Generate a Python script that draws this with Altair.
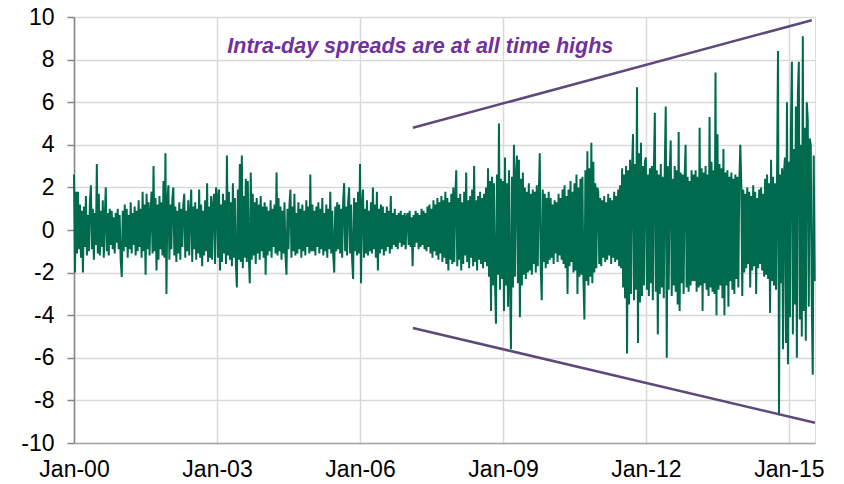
import altair as alt
import pandas as pd

# Values, about one value per week-ish (48 per year)
v2000 = [2.6, -2.0, 1.8, -1.1, 1.8, -0.9, 1.2, -1.3, 0.9, -2.0, 1.1, -0.8, 1.6, -1.2, 0.7, -1.0, 1.3, 2.1, -0.9, 1.0, -1.4, 0.8, -0.7, 3.1, -1.1, 1.7, -1.2, 0.9, -0.8, 1.4, -1.3, 0.6, 2.0, -1.0, 0.8, -1.2, 1.0, -0.7, 0.9, -0.9, 0.6, -1.1, 0.8, -0.6, 1.0, -0.9, 0.7, -1.4]
v2001 = [-2.2, 0.9, -1.0, 1.2, -0.8, 1.0, -1.3, 0.7, -0.9, 1.3, -1.1, 0.8, -0.7, 1.1, -1.2, 0.9, -1.0, 1.4, -0.8, 1.0, -1.3, 1.8, -1.0, 1.2, -2.1, 1.7, -0.9, 1.3, -1.2, 0.8, 1.8, -1.1, 3.0, -1.0, 1.5, -1.9, 1.2, -1.4, 1.6, -0.9, 1.3, -1.2, 2.3, -1.3, 3.6, -3.0, 1.4, 2.1]
v2002 = [-1.4, 1.2, -0.9, 1.5, 2.0, -1.2, 1.1, -1.5, 0.9, -1.1, 1.3, -1.4, 1.0, -0.8, 1.2, 1.7, -1.3, 0.9, -1.0, 1.4, -1.2, 0.8, 1.9, -1.5, 1.1, -0.9, 1.3, -1.4, 1.0, -1.1, 1.9, -1.3, 1.2, -1.7, 0.9, -1.2, 1.4, -1.0, 2.2, -1.5, 1.1, -1.3, 1.6, -1.4, 1.2, 1.7, -1.6, 2.0]
v2003 = [1.6, -1.3, 1.9, -1.9, 1.2, -1.5, 1.7, -1.1, 1.4, -1.6, 3.5, -1.2, 1.8, -1.4, 1.3, -1.7, 2.2, -1.3, 1.5, -1.6, -2.7, 1.9, -1.4, 3.1, -1.5, 3.5, -1.8, 1.6, -1.3, 2.4, -1.5, 2.3, -1.2, -2.5, 2.7, -1.4, 1.7, -1.2, 1.3, -1.6, 1.5, -1.1, 1.2, -1.4, 1.6, -1.0, 1.1, -1.3]
v2004 = [1.3, -2.1, 1.1, -1.2, 0.9, -1.0, 1.4, -1.3, 1.0, -0.8, 1.2, -1.1, 2.7, -1.2, 1.5, -1.0, 1.1, -1.4, 0.9, -1.1, 1.3, -1.2, -2.1, 1.0, -0.9, 1.2, 1.9, -1.3, 1.1, -1.0, 1.7, -1.2, 0.8, -1.1, 1.3, -0.9, 1.0, -1.3, 1.2, -1.0, 0.9, -1.2, 1.4, -0.8, 1.1, -1.1, 2.6, -1.0]
v2005 = [1.2, -1.0, 0.9, -1.2, 1.1, -0.8, 1.3, -1.1, 1.0, -0.9, 1.5, -1.2, 0.8, -1.0, 1.2, -1.3, 1.0, -0.9, 1.8, -1.1, 0.9, -1.2, -2.0, 1.1, -1.0, 1.3, -0.9, 1.2, -1.1, 1.0, -1.3, 1.4, 2.2, -1.0, 1.1, -1.2, 1.3, 2.0, -1.1, 1.2, -1.4, -2.3, 1.5, -1.0, 1.3, -1.2, 1.8, -1.1]
v2006 = [3.1, -2.5, 1.2, 1.9, -1.3, 1.0, -1.1, 1.4, -1.2, 0.9, -1.0, 1.3, -1.1, 2.0, -0.9, 1.2, -1.3, 1.8, -1.9, 1.0, -1.1, 1.2, -0.9, 1.1, -1.2, 0.8, -1.0, 1.1, -0.8, 0.9, -1.1, 1.6, -0.9, 0.8, -0.7, 1.0, -0.8, 0.7, -0.9, 0.8, -0.6, 0.9, -0.8, 0.7, -0.7, 0.8, -0.9, 0.6]
v2007 = [0.8, -0.7, 0.9, -0.8, 0.6, -1.7, 0.7, -0.8, 0.9, -0.6, 0.8, -0.9, 0.7, -0.8, 1.0, -0.7, 0.9, -0.9, 0.8, -1.0, 1.1, -0.8, 1.2, -1.1, 1.0, -1.3, 1.4, -1.0, 1.2, -1.2, 1.5, -1.4, 1.3, -1.1, 1.6, -1.5, 1.4, -1.3, 1.8, -1.6, 1.5, -1.9, 1.3, -1.4, 1.7, -1.6, 2.0, -1.5]
v2008 = [1.6, 2.8, -1.7, 1.5, -1.4, 1.7, -1.9, 1.3, -1.6, 1.8, -1.2, 2.7, -1.5, 1.4, -1.8, 1.6, -1.3, 1.9, -1.7, 3.0, -1.5, 1.4, -1.9, 1.6, -1.4, 1.8, -1.6, 1.5, -1.8, 1.7, -1.5, 2.0, -1.7, 2.9, -2.2, 2.3, -3.8, 2.5, -2.6, 2.2, -2.4, -4.4, 2.6, -2.1, 5.0, -2.8, 2.4, -2.3]
v2009 = [2.3, -3.8, 3.4, -2.6, 2.2, -3.6, 2.8, -2.4, -5.6, 2.5, -2.7, 4.0, -2.2, 2.6, 3.5, -2.5, 3.3, -4.1, 2.4, -2.6, 2.7, -2.1, 2.0, -2.3, 1.8, -2.0, 2.2, -1.9, 1.7, -2.1, 1.9, -1.6, 1.8, -2.0, 2.1, -1.7, 1.6, 3.6, -1.8, -3.3, 1.9, -1.5, 1.7, -1.8, 1.5, -1.6, 1.8, -1.4]
v2010 = [1.5, -1.3, 1.2, -1.6, 1.4, -1.1, 1.3, -1.5, 1.7, -1.2, 1.5, -1.4, 1.9, -1.6, 2.1, -1.8, 1.6, -3.0, 1.9, -1.7, 2.3, -1.5, 1.8, -2.0, 2.2, -1.9, 2.6, -3.0, 2.0, -2.2, 2.4, -2.1, 2.5, -2.3, -4.2, 2.8, -2.4, 3.7, -2.6, 2.9, -2.2, 4.1, -2.5, 3.2, -2.0, 2.2, -1.8, 2.0]
v2011 = [1.8, -1.6, 1.5, -1.7, 1.4, -1.3, 1.6, -1.5, 1.3, -1.4, 1.7, -1.2, 1.5, -1.6, 1.4, -1.3, 1.8, -1.5, 1.6, -1.4, 1.9, -1.7, 2.1, -1.8, 2.9, -2.7, 2.6, -3.2, 3.0, -5.8, 2.8, -3.5, 3.3, -3.0, 2.9, 4.5, -3.3, 3.1, -2.8, 6.7, -5.3, 3.6, -3.4, 4.1, -3.1, 3.0, -2.6, 3.2]
v2012 = [3.4, -2.8, 2.6, -3.1, 2.9, -2.5, 3.0, -3.3, 2.7, 5.5, -2.9, 2.8, -4.9, 2.6, -3.0, 3.1, -2.7, 2.5, -3.2, 2.9, 5.8, -6.0, 3.0, -2.8, 2.7, 4.2, -3.1, 2.4, -2.6, 3.0, -2.9, 2.8, -3.5, 4.6, -3.8, 2.7, -2.5, 2.6, -3.0, 2.4, 4.0, -2.7, 2.5, -2.9, 2.3, -2.6, 2.8, -2.4]
v2013 = [2.6, -2.4, 2.8, -2.9, 2.5, -2.7, 4.8, -2.6, 2.9, -3.8, 2.7, -2.5, 3.0, -2.8, 2.6, -3.1, 5.3, -2.7, 3.2, -2.9, 2.8, -3.0, 7.4, -4.0, 4.5, -2.8, 3.1, -2.6, 2.9, -3.2, 3.8, -4.0, 2.7, -2.6, 2.8, -3.6, 2.5, -2.4, 2.7, -2.8, 2.4, -3.0, 2.6, -2.3, 2.5, -2.7, 2.3, 4.0]
v2014 = [2.2, -3.1, 1.9, -2.0, 1.7, -1.8, 2.0, -1.6, 1.8, -2.7, 1.6, -1.9, 2.1, -1.7, 1.8, -3.0, 1.5, -1.8, 1.9, -1.6, 2.0, -1.9, 1.7, -2.2, 2.4, -2.1, 2.6, -2.3, 2.2, -3.9, 3.3, -2.4, 2.5, -2.6, 2.2, -2.8, 2.4, 8.4, -8.7, 2.6, -2.5, 2.9, -5.6, 2.7, 3.4, -5.3, 6.0, -6.3]
v2015 = [3.2, -4.1, 4.5, 7.9, -4.9, 3.8, -3.5, 5.8, -6.0, 6.4, 7.9, -4.2, 4.0, -5.0, 9.1, -3.8, 4.8, -5.2, 6.0, 5.2, -3.6, 4.3, 4.0, -3.2, -6.8, 3.5, -2.4]

series_by_year = {2000: v2000, 2001: v2001, 2002: v2002, 2003: v2003, 2004: v2004,
                  2005: v2005, 2006: v2006, 2007: v2007, 2008: v2008, 2009: v2009,
                  2010: v2010, 2011: v2011, 2012: v2012, 2013: v2013, 2014: v2014,
                  2015: v2015}

# Trend lines (envelope) and annotation
upper_dates = ["2007-02-10", "2015-06-25"]
upper_vals = [4.8, 9.85]
lower_dates = ["2007-02-10", "2015-07-20"]
lower_vals = [-4.6, -9.05]
note_text = "Intra-day spreads are at all time highs"
note_date = "2007-04-08"
note_val = 8.6

tick_years = [2000, 2003, 2006, 2009, 2012, 2015]
y_ticks = list(range(-10, 11, 2))

rows = []
for yr, vals in series_by_year.items():
    start = pd.Timestamp(f"{yr}-01-01")
    for i, v in enumerate(vals):
        rows.append({"date": start + pd.Timedelta(days=365.25 * i / 48), "value": v})
df = pd.DataFrame(rows)
df["date"] = df["date"].dt.strftime("%Y-%m-%dT%H:%M:%S")

trend = pd.DataFrame({
    "date": upper_dates + lower_dates,
    "value": upper_vals + lower_vals,
    "grp": ["up", "up", "low", "low"],
})
note = pd.DataFrame({"date": [note_date], "value": [note_val], "label": [note_text]})

font = "Liberation Sans"
xscale = alt.Scale(domain=[alt.DateTime(year=2000, month=1, date=1),
                           alt.DateTime(year=2015, month=7, date=20)])
yscale = alt.Scale(domain=[-10, 10], nice=False)

xaxis = alt.Axis(values=[alt.DateTime(year=y, month=1, date=1) for y in tick_years],
                 format="%b-%y", labelFontSize=23, labelFont=font, labelColor="#000000",
                 ticks=False, tickSize=0, labelPadding=15, domainColor="#A6A6A6",
                 domainWidth=1.5, gridColor="#D9D9D9", gridWidth=1.5, title=None,
                 labelFlush=False, labelBaseline="top")
yaxis = alt.Axis(values=y_ticks, labelFontSize=23, labelFont=font, labelColor="#000000",
                 labelExpr="'' + datum.value",
                 tickSize=7, tickColor="#868686", tickWidth=1.5, labelPadding=13,
                 domainColor="#868686", domainWidth=1.5, gridColor="#D9D9D9",
                 gridWidth=1.5, title=None)

line = alt.Chart(df).mark_line(color="#006A4E", strokeWidth=2).encode(
    x=alt.X("date:T", scale=xscale, axis=xaxis),
    y=alt.Y("value:Q", scale=yscale, axis=yaxis),
)

trend_lines = alt.Chart(trend).mark_line(color="#5F497A", strokeWidth=2.5).encode(
    x=alt.X("date:T", scale=xscale),
    y=alt.Y("value:Q", scale=yscale),
    detail="grp:N",
)

label = alt.Chart(note).mark_text(
    font=font, fontSize=21.5, fontStyle="italic", fontWeight="bold",
    color="#7030A0", align="center", baseline="middle",
).encode(
    x=alt.X("date:T", scale=xscale),
    y=alt.Y("value:Q", scale=yscale),
    text="label:N",
)

chart = alt.layer(line, trend_lines, label).properties(
    width=741, height=426,
    autosize=alt.AutoSizeParams(type="none"),
    padding={"left": 66, "top": 9, "right": 21, "bottom": 38},
).configure_view(stroke="#C6C6C6", strokeWidth=1.5).configure(background="white")

chart.save("out.html", embed_options={"renderer": "svg", "actions": False})
